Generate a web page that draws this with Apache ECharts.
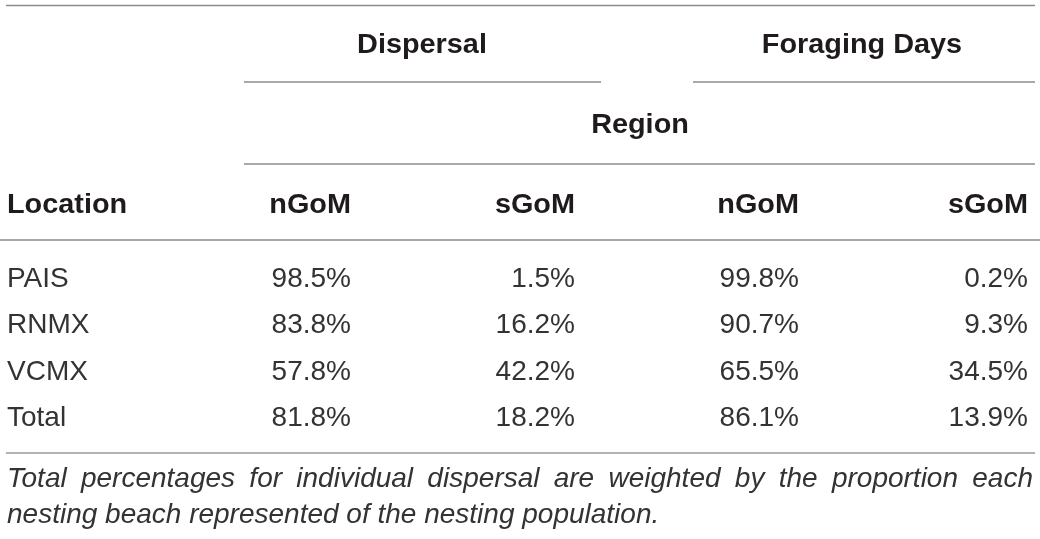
<!DOCTYPE html>
<html><head><meta charset="utf-8">
<script src="https://cdn.jsdelivr.net/npm/echarts@6/dist/echarts.min.js"></script>
<style>html,body{margin:0;padding:0;background:#fff}#c{width:1040px;height:539px}</style>
</head><body><div id="c"></div><script>
// ---- data ----
const locations = ['PAIS', 'RNMX', 'VCMX', 'Total'];
const dispersalN = [98.5, 83.8, 57.8, 81.8];
const dispersalS = [1.5, 16.2, 42.2, 18.2];
const foragingN = [99.8, 90.7, 65.5, 86.1];
const foragingS = [0.2, 9.3, 34.5, 13.9];
const groupHeaders = ['Dispersal', 'Foraging Days'];
const spanHeader = 'Region';
const columnHeaders = ['Location', 'nGoM', 'sGoM', 'nGoM', 'sGoM'];
const footnote = 'Total percentages for individual dispersal are weighted by the proportion each nesting beach represented of the nesting population.';

// ---- layout ----
const FAM = "'Liberation Sans', Arial, Helvetica, sans-serif";
const colAnchor = [7, 351, 575, 799, 1028];
const colAlign = ['left', 'right', 'right', 'right', 'right'];
const TXT = '#1f1b1c';
const VAL = '#333333';
const LINE = '#8c8c8c';

const columns = [locations, dispersalN, dispersalS, foragingN, foragingS];
const cells = [];
for (let r = 0; r < locations.length; r++) {
  for (let c = 0; c < columns.length; c++) {
    const v = columns[c][r];
    cells.push([colAnchor[c], locations[r], c === 0 ? v : v.toFixed(1) + '%', c]);
  }
}

const graphics = [];
function hline(x1, x2, y, w, col) {
  graphics.push({ type: 'line', shape: { x1: x1, y1: y, x2: x2, y2: y }, style: { stroke: col || LINE, lineWidth: w || 1.5 }, silent: true });
}
function txt(text, x, y, align, font, color, sx) {
  graphics.push({ type: 'text', x: x, y: y, scaleX: sx || 1, style: { text: text, align: align, verticalAlign: 'middle', font: font, fill: color || TXT }, silent: true });
}
const BOLD = 'bold 28px ' + FAM;
const BSX = 1.03;
hline(6, 1035, 5.5, 1.5);
txt(groupHeaders[0], 422, 45, 'center', BOLD, TXT, BSX);
txt(groupHeaders[1], 862, 45, 'center', BOLD, TXT, BSX);
hline(244, 601, 82, 1.5);
hline(693, 1035, 82, 1.5);
txt(spanHeader, 640, 125, 'center', BOLD, TXT, BSX);
hline(244, 1035, 164, 1.5);
for (let c = 0; c < columnHeaders.length; c++) {
  txt(columnHeaders[c], colAnchor[c], 205, colAlign[c], BOLD, TXT, BSX);
}
hline(0, 1040, 240, 2, '#a8a8a8');
hline(6, 1035, 453, 1.5, '#9a9a9a');

// justified footnote
const FOOT = 'italic 28px ' + FAM;
const ctx = document.createElement('canvas').getContext('2d');
ctx.font = FOOT;
const words = footnote.split(' ');
const line1 = words.slice(0, 11);
const line2 = words.slice(11).join(' ');
let sum = 0;
line1.forEach(w => sum += ctx.measureText(w).width);
const left = 7, right = 1033;
const gap = (right - left - sum) / (line1.length - 1);
let xx = left;
line1.forEach(w => {
  txt(w, xx, 479, 'left', FOOT, VAL);
  xx += ctx.measureText(w).width + gap;
});
txt(line2, left, 515, 'left', FOOT, VAL);

const chart = echarts.init(document.getElementById('c'), null, { renderer: 'canvas' });
chart.setOption({
  animation: false,
  backgroundColor: '#ffffff',
  grid: { left: 0, right: 0, top: 256, bottom: 97 },
  xAxis: { type: 'value', min: 0, max: 1040, show: false },
  yAxis: { type: 'category', data: locations, inverse: true, show: false },
  series: [{
    type: 'custom',
    data: cells,
    renderItem: function (params, api) {
      const p = api.coord([api.value(0), api.value(1)]);
      const c = api.value(3);
      return {
        type: 'text', x: p[0], y: p[1],
        style: { text: cells[params.dataIndex][2], align: colAlign[c], verticalAlign: 'middle', font: '28px ' + FAM, fill: VAL }
      };
    },
    silent: true
  }],
  graphic: graphics
});
</script></body></html>
